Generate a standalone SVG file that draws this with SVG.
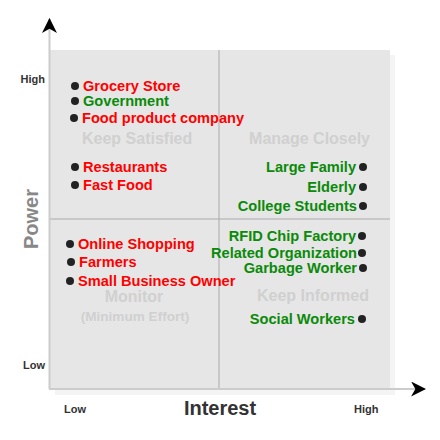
<svg xmlns="http://www.w3.org/2000/svg" width="440" height="440" viewBox="0 0 440 440">
<style>
text{font-family:"Liberation Sans",Arial,sans-serif;font-weight:bold}
.r{fill:#ff0000;font-size:14.6px}
.g{fill:#0a8a0a;font-size:14.6px}
.q{fill:#d0d0d0;font-size:16px}
.ax{fill:#333;font-size:11px}
.e{text-anchor:end}
.dot{fill:#222}
</style>
<defs>
<marker id="ah" viewBox="0 0 14 14" refX="13" refY="7" markerWidth="15" markerHeight="15" markerUnits="userSpaceOnUse" orient="auto">
<path d="M0,0 L14,7 L0,14 L4,7 Z" fill="#000"/>
</marker>
</defs>
<rect x="55" y="55" width="340" height="340" fill="#f4f4f4"/>
<rect x="50" y="50" width="340" height="339" fill="#e6e6e6"/>
<g id="connectors">
<line x1="219" y1="50" x2="219" y2="389" stroke="#aaa" stroke-width="1"/>
<line x1="50" y1="219" x2="390" y2="219" stroke="#aaa" stroke-width="1"/>
<line x1="49.5" y1="389" x2="49.5" y2="19" stroke="#ccc" stroke-width="2" marker-end="url(#ah)"/>
<line x1="49" y1="389" x2="425" y2="389" stroke="#ccc" stroke-width="2" marker-end="url(#ah)"/>
</g>
<g id="axis-labels">
<text class="ax" x="45" y="83" text-anchor="end">High</text>
<text class="ax" x="45" y="369" text-anchor="end">Low</text>
<text class="ax" x="64" y="413">Low</text>
<text class="ax" x="354" y="413">High</text>
<text x="220" y="415" text-anchor="middle" fill="#333" font-size="20">Interest</text>
<text x="38" y="219" text-anchor="middle" fill="#888" font-size="20" transform="rotate(-90 38 219)">Power</text>
</g>
<g id="quadrant-labels">
<text class="q" x="82" y="144">Keep Satisfied</text>
<text class="q e" x="370" y="144">Manage Closely</text>
<text class="q" x="134" y="302" text-anchor="middle">Monitor</text>
<text x="135" y="321" text-anchor="middle" fill="#d0d0d0" font-size="13.6">(Minimum Effort)</text>
<text class="q e" x="369" y="301">Keep Informed</text>
</g>
<g id="n-grocery"><circle class="dot" cx="75" cy="86" r="4"/><text class="r" x="83" y="91">Grocery Store</text></g>
<g id="n-government"><circle class="dot" cx="75" cy="101" r="4"/><text class="g" x="83" y="106">Government</text></g>
<g id="n-food"><circle class="dot" cx="74" cy="118" r="4"/><text class="r" x="82" y="123">Food product company</text></g>
<g id="n-restaurants"><circle class="dot" cx="75" cy="167" r="4"/><text class="r" x="83" y="172">Restaurants</text></g>
<g id="n-fastfood"><circle class="dot" cx="75" cy="185" r="4"/><text class="r" x="83" y="190">Fast Food</text></g>
<g id="n-online"><circle class="dot" cx="70" cy="244" r="4"/><text class="r" x="78" y="249">Online Shopping</text></g>
<g id="n-farmers"><circle class="dot" cx="71" cy="262" r="4"/><text class="r" x="79" y="267">Farmers</text></g>
<g id="n-small"><circle class="dot" cx="70" cy="281" r="4"/><text class="r" x="78" y="286">Small Business Owner</text></g>
<g id="n-large"><circle class="dot" cx="363" cy="167" r="4"/><text class="g e" x="356" y="172">Large Family</text></g>
<g id="n-elderly"><circle class="dot" cx="363" cy="187" r="4"/><text class="g e" x="356" y="192">Elderly</text></g>
<g id="n-college"><circle class="dot" cx="363" cy="206" r="4"/><text class="g e" x="357" y="211">College Students</text></g>
<g id="n-rfid"><circle class="dot" cx="362" cy="236" r="4"/><text class="g e" x="356" y="241">RFID Chip Factory</text></g>
<g id="n-related"><circle class="dot" cx="362" cy="253" r="4"/><text class="g e" x="357" y="258">Related Organization</text></g>
<g id="n-garbage"><circle class="dot" cx="363" cy="268" r="4"/><text class="g e" x="357" y="273">Garbage Worker</text></g>
<g id="n-social"><circle class="dot" cx="362" cy="319" r="4"/><text class="g e" x="355" y="324">Social Workers</text></g>
</svg>
